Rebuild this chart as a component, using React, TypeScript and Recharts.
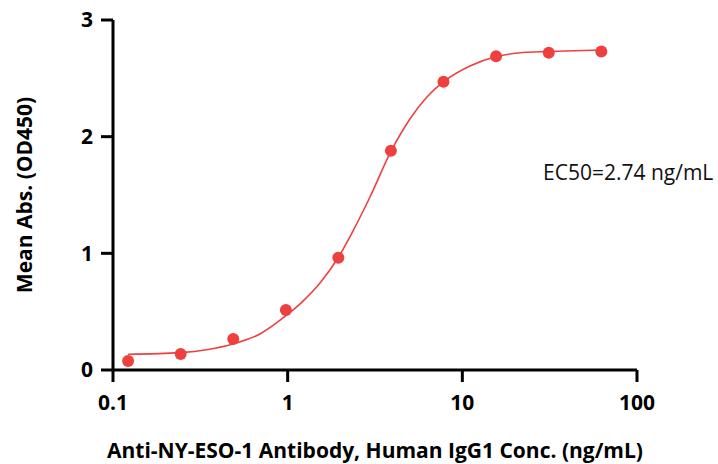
import React from 'react';
import { ComposedChart, Line, Scatter, XAxis, YAxis, Label } from 'recharts';

// measured points (ng/mL vs OD450)
const concentrations = [0.122, 0.244, 0.488, 0.977, 1.95, 3.9, 7.8, 15.6, 31.25, 62.5];
const meanAbs = [0.077, 0.137, 0.266, 0.514, 0.962, 1.88, 2.47, 2.69, 2.72, 2.73];

// fitted curve
const fitConc = [0.122, 0.242, 0.35, 0.486, 0.694, 0.965, 1.224, 1.531, 1.94, 2.364, 2.96, 3.89, 5.01, 6.27, 7.78, 11.05, 15.7, 22.2, 30.9, 62.7];
const fitAbs = [0.135, 0.149, 0.176, 0.223, 0.309, 0.459, 0.591, 0.746, 0.96, 1.191, 1.483, 1.869, 2.151, 2.34, 2.469, 2.606, 2.687, 2.721, 2.73, 2.743];

const xTicks = [0.1, 1, 10, 100];
const yTicks = [0, 1, 2, 3];

const RED = '#EF4040';
const FONT = '"Open Sans", Arial, sans-serif';

export default function App() {
  const points = concentrations.map((c, i) => ({ x: c, y: meanAbs[i] }));
  const curve = fitConc.map((c, i) => ({ x: c, y: fitAbs[i] }));

  const tickStyle = { fill: '#000', fontSize: 21, fontWeight: 700, fontFamily: FONT };

  return (
    <div style={{ position: 'absolute', left: 0, top: 0, width: 718, height: 464, background: '#fff' }}>
      <ComposedChart width={718} height={464} margin={{ top: 20, right: 81, left: 0, bottom: 0 }}>
        <XAxis
          type="number"
          dataKey="x"
          scale="log"
          domain={[0.1, 100]}
          ticks={xTicks}
          allowDataOverflow
          height={94}
          tickFormatter={(v) => String(v)}
          axisLine={{ stroke: '#000', strokeWidth: 3 }}
          tickLine={{ stroke: '#000', strokeWidth: 3 }}
          tickSize={12}
          tickMargin={13}
          tick={tickStyle}
        >
          <Label
            value="Anti-NY-ESO-1 Antibody, Human IgG1 Conc. (ng/mL)"
            position="insideBottom"
            offset={6}
            style={{ fill: '#000', fontSize: 21, fontWeight: 700, fontFamily: FONT }}
          />
        </XAxis>
        <YAxis
          type="number"
          dataKey="y"
          domain={[0, 3]}
          ticks={yTicks}
          width={113}
          axisLine={{ stroke: '#000', strokeWidth: 3 }}
          tickLine={{ stroke: '#000', strokeWidth: 3 }}
          tickSize={12}
          tickMargin={8}
          tick={tickStyle}
        >
          <Label
            value="Mean Abs. (OD450)"
            angle={-90}
            position="insideLeft"
            offset={25}
            style={{ fill: '#000', fontSize: 21, fontWeight: 700, fontFamily: FONT, textAnchor: 'middle' }}
          />
        </YAxis>
        <Line
          data={curve}
          dataKey="y"
          type="monotone"
          stroke={RED}
          strokeWidth={1.6}
          dot={false}
          activeDot={false}
          isAnimationActive={false}
        />
        <Scatter
          data={points}
          dataKey="y"
          fill={RED}
          shape={(p: any) => <circle cx={p.cx} cy={p.cy} r={6} fill={RED} />}
          isAnimationActive={false}
        />
        <text x={543} y={180} fontSize={21} fontFamily={FONT} fill="#111">
          EC50=2.74 ng/mL
        </text>
      </ComposedChart>
    </div>
  );
}
